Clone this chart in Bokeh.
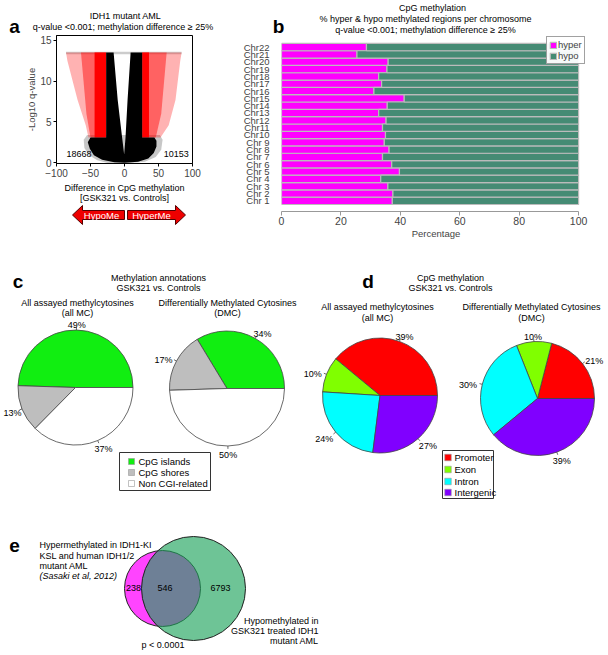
import numpy as np
from bokeh.plotting import figure
from bokeh.layouts import column, row
from bokeh.models import Range1d, FixedTicker, Legend, LegendItem, Plot
from bokeh.embed import file_html
from bokeh.resources import INLINE
from bokeh.core.properties import value

FONT = "Liberation Sans"
EXTRA = {"frame_align": False} if "frame_align" in Plot.properties() else {}

# ---------------- data ----------------
# (a) volcano plot: envelopes of the point clouds (difference %, -log10 q)
black_x = [-16, -27, -27, -50, -54, -51, -45, -33, -15, 0, 20, 35, 43, 47, 47, 44, 26, 26, 9, 4.5, 1.5, -0.5, -3.5, -10]
black_y = [13.5, 13.5, 3.1, 3.1, 2.5, 1.7, 0.9, 0.35, 0.05, 0.0, 0.1, 0.5, 1.2, 2.0, 2.7, 3.1, 3.1, 13.5, 13.5, 7.7, 3.1, 1.0, 3.1, 7.7]
halo_x = [-55, -60, -59, -52, -40, -25, 0, 30, 46, 54, 56, 52]
halo_y = [3.4, 2.8, 1.8, 0.9, 0.3, -0.05, -0.1, 0.1, 0.7, 1.6, 2.8, 3.4]
red_sparse_left_x = [-27, -53, -57, -69, -84, -86, -27]
red_sparse_left_y = [3.1, 3.1, 4.6, 7.7, 12.5, 13.5, 13.5]
red_sparse_right_x = [26, 53, 65, 75, 82, 84, 26]
red_sparse_right_y = [3.1, 3.1, 4.6, 7.7, 12.5, 13.5, 13.5]
red_mid_left_x = [-27, -50, -56, -64, -27]
red_mid_left_y = [3.1, 3.1, 6.0, 13.5, 13.5]
red_mid_right_x = [26, 46, 54, 62, 26]
red_mid_right_y = [3.1, 3.1, 6.0, 13.5, 13.5]
red_dense_left_x = [-44, -27, -27, -44]
red_dense_right_x = [26, 36, 36, 26]
red_dense_y = [3.1, 3.1, 13.5, 13.5]
cap_x = [-86, 84]
cap_y = [13.3, 13.6]
hypo_count = 18668
hyper_count = 10153
volcano_xticks = [-100, -50, 0, 50, 100]
volcano_yticks = [0, 5, 10, 15]

# (b) % hyper-methylated regions per chromosome (rest is hypo)
chrom_labels = ["Chr 1", "Chr 2", "Chr 3", "Chr 4", "Chr 5", "Chr 6", "Chr 7", "Chr 8", "Chr 9",
                "Chr10", "Chr11", "Chr12", "Chr13", "Chr14", "Chr15", "Chr16", "Chr17", "Chr18",
                "Chr19", "Chr20", "Chr21", "Chr22"]
hyper_pct = [37.3, 37.5, 35.8, 33.4, 39.7, 37.1, 34.0, 36.2, 34.6, 35.0, 34.0, 35.2, 32.7, 35.6,
             41.3, 31.1, 33.7, 32.7, 35.5, 35.9, 25.4, 28.6]
pct_ticks = [0, 20, 40, 60, 80, 100]

# (c) methylation annotations
annot_labels = ["CpG islands", "CpG shores", "Non CGI-related"]
annot_all = [49, 13, 37]
annot_dmc = [34, 17, 50]
annot_colors = ["#11EE11", "#BEBEBE", "#FFFFFF"]

# (d) genomic features
feat_labels = ["Promoter", "Exon", "Intron", "Intergenic"]
feat_all = [39, 10, 24, 27]
feat_dmc = [21, 10, 30, 39]
feat_colors = ["#FF0000", "#80FF00", "#00FFFF", "#8000FF"]

# (e) Venn counts
venn_only_sasaki = 238
venn_overlap = 546
venn_only_gsk = 6793


# ---------------- helpers ----------------
def canvas(X0, Y0, X1, Y1):
    p = figure(width=X1 - X0, height=Y1 - Y0, x_range=Range1d(X0, X1), y_range=Range1d(-Y1, -Y0),
               x_axis_type=None, y_axis_type=None, toolbar_location=None, output_backend="svg",
               min_border_left=0, min_border_right=0, min_border_top=0, min_border_bottom=0, **EXTRA)
    p.outline_line_color = None
    return p


def txt(p, X, Y, s, size=9, align="center", baseline="middle", style="normal", color="black"):
    p.text(x=[X], y=[-Y], text=[s], text_font=value(FONT), text_font_size=f"{size}px",
           text_align=align, text_baseline=baseline, text_font_style=style, text_color=color)


def letter(p, X, Y, s):
    txt(p, X, Y, s, size=19, baseline="middle", style="bold")


def pie(p, cx, cy, r, vals, colors, xmin, xmax):
    fr = np.array(vals, dtype=float) / float(sum(vals))
    ends = np.cumsum(fr) * 2 * np.pi
    starts = np.concatenate([[0.0], ends[:-1]])
    p.wedge(x=cx, y=-cy, radius=r, start_angle=list(starts), end_angle=list(ends),
            fill_color=colors, line_color="#444444", line_width=0.8)
    for s, e, v in zip(starts, ends, vals):
        m = (s + e) / 2
        c, sn = np.cos(m), np.sin(m)
        p.line([cx + r * c, cx + 1.05 * r * c], [-cy + r * sn, -cy + 1.05 * r * sn],
               line_color="#444444", line_width=0.8)
        lx = min(max(cx + 1.12 * r * c + 8 * c, xmin), xmax)
        txt(p, lx, cy - 1.12 * r * sn + 2, f"{v}%")


def box_legend(p, x0, y0, x1, y1, sq_x, sq, rows_y, labels, colors, text_x):
    p.quad(left=[x0], right=[x1], top=[-y0], bottom=[-y1], fill_color=None,
           line_color="#333333", line_width=1)
    p.rect(x=[sq_x] * len(rows_y), y=[-yy for yy in rows_y], width=sq, height=sq,
           fill_color=colors, line_color="#999999", line_width=0.6)
    for yy, lab in zip(rows_y, labels):
        txt(p, text_x, yy, lab, size=9.5, align="left")


# ---------------- panel a ----------------
a_top = canvas(0, 0, 240, 35)
letter(a_top, 14, 25.5, "a")
txt(a_top, 125, 15.5, "IDH1 mutant AML")
txt(a_top, 122.5, 26.5, "q-value <0.001; methylation difference \u2265 25%")

pa = figure(width=240, height=148, x_range=Range1d(-100, 100), y_range=Range1d(-0.1, 15.6),
            toolbar_location=None, output_backend="svg",
            min_border_left=56, min_border_right=48, min_border_top=0, min_border_bottom=20, **EXTRA)
pa.grid.grid_line_color = None
pa.outline_line_color = "black"
pa.outline_line_width = 1
pa.xaxis.ticker = FixedTicker(ticks=volcano_xticks)
pa.yaxis.ticker = FixedTicker(ticks=volcano_yticks)
for ax in [pa.xaxis[0], pa.yaxis[0]]:
    ax.major_tick_out = 3
    ax.major_tick_in = 0
    ax.minor_tick_line_color = None
    ax.major_label_text_font = FONT
    ax.major_label_text_font_size = "10px"
    ax.major_label_standoff = 2
    ax.axis_line_color = "black"
pa.yaxis.axis_label = "-Log10 q-value"
pa.yaxis.axis_label_text_font = FONT
pa.yaxis.axis_label_text_font_size = "9.5px"
pa.yaxis.axis_label_text_font_style = "normal"
pa.yaxis.axis_label_standoff = 0

pa.patch(halo_x, halo_y, fill_color="black", fill_alpha=0.22, line_color=None)
pa.quad(left=[cap_x[0]], right=[cap_x[1]], bottom=[cap_y[0]], top=[cap_y[1]],
        fill_color="black", fill_alpha=0.2, line_color=None)
pa.patch(red_sparse_left_x, red_sparse_left_y, fill_color="red", fill_alpha=0.3, line_color=None)
pa.patch(red_sparse_right_x, red_sparse_right_y, fill_color="red", fill_alpha=0.3, line_color=None)
pa.patch(red_mid_left_x, red_mid_left_y, fill_color="red", fill_alpha=0.45, line_color=None)
pa.patch(red_mid_right_x, red_mid_right_y, fill_color="red", fill_alpha=0.45, line_color=None)
pa.patch(red_dense_left_x, red_dense_y, fill_color="red", line_color=None)
pa.patch(red_dense_right_x, red_dense_y, fill_color="red", line_color=None)
pa.patch(black_x, black_y, fill_color="black", line_color=None)
pa.text(x=[-67, 76], y=[1.12, 1.12], text=[str(hypo_count), str(hyper_count)],
        text_font=value(FONT), text_font_size="9px", text_align="center", text_baseline="middle")

a_bot = canvas(0, 183, 240, 262)
txt(a_bot, 124, 187.5, "Difference in CpG methylation")
txt(a_bot, 124, 197.5, "[GSK321 vs. Controls]")
left_arrow_X = [72, 82, 82, 124, 124, 82, 82]
left_arrow_Y = [214.5, 205, 210, 210, 219, 219, 224]
right_arrow_X = [127, 175, 175, 185, 175, 175, 127]
right_arrow_Y = [210, 210, 205, 214.5, 224, 219, 219]
a_bot.patch(left_arrow_X, [-v for v in left_arrow_Y], fill_color="#EE0000", line_color="#550000", line_width=1)
a_bot.patch(right_arrow_X, [-v for v in right_arrow_Y], fill_color="#EE0000", line_color="#550000", line_width=1)
txt(a_bot, 101, 214.5, "HypoMe", size=9.5, color="white")
txt(a_bot, 151, 214.5, "HyperMe", size=9.5, color="white")

# ---------------- panel b ----------------
b_top = canvas(240, 0, 606, 36)
letter(b_top, 278, 25.5, "b")
txt(b_top, 432, 7, "CpG methylation")
txt(b_top, 425, 18, "% hyper & hypo methylated regions per chromosome")
txt(b_top, 425, 29, "q-value <0.001; methylation difference \u2265 25%")

y_pos = list(range(1, len(chrom_labels) + 1))
hypo_pct = [100 - h for h in hyper_pct]
pb = figure(width=366, height=226, x_range=Range1d(0, 104.01), y_range=Range1d(-0.456, 23.45),
            toolbar_location=None, output_backend="svg",
            min_border_left=39, min_border_right=16, min_border_top=0, min_border_bottom=51, **EXTRA)
pb.grid.grid_line_color = None
pb.outline_line_color = None
r_hyper = pb.hbar(y=y_pos, left=0, right=hyper_pct, height=1, fill_color="#FF00FF",
                  line_color="#BBBBBB", line_width=1.2)
r_hypo = pb.hbar(y=y_pos, left=hyper_pct, right=[h + g for h, g in zip(hyper_pct, hypo_pct)], height=1,
                 fill_color="#458B74", line_color="#BBBBBB", line_width=1.2)
pb.yaxis.ticker = FixedTicker(ticks=y_pos)
pb.yaxis.major_label_overrides = {i: lab for i, lab in zip(y_pos, chrom_labels)}
pb.yaxis.axis_line_color = None
pb.yaxis.major_tick_line_color = None
pb.yaxis.minor_tick_line_color = None
pb.yaxis.major_label_standoff = 6
pb.yaxis.major_label_text_font = FONT
pb.yaxis.major_label_text_font_size = "9.5px"
pb.xaxis.ticker = FixedTicker(ticks=pct_ticks)
pb.xaxis.bounds = (0, 100)
pb.xaxis.axis_line_color = "#999999"
pb.xaxis.major_tick_line_color = "#999999"
pb.xaxis.minor_tick_line_color = None
pb.xaxis.major_tick_out = 4
pb.xaxis.major_tick_in = 0
pb.xaxis.major_label_standoff = 1
pb.xaxis.major_label_text_font = FONT
pb.xaxis.major_label_text_font_size = "10.5px"
pb.xaxis.axis_label = "Percentage"
pb.xaxis.axis_label_text_font = FONT
pb.xaxis.axis_label_text_font_size = "9.5px"
pb.xaxis.axis_label_text_font_style = "normal"
pb.xaxis.axis_label_standoff = 0
leg = Legend(items=[LegendItem(label="hyper", renderers=[r_hyper]),
                    LegendItem(label="hypo", renderers=[r_hypo])],
             location=(265, 147), label_text_font=FONT, label_text_font_size="9.5px",
             glyph_width=8, glyph_height=8, label_height=8, label_standoff=1, spacing=0,
             padding=2, margin=0, border_line_color="#444444", border_line_width=1)
pb.add_layout(leg)

# ---------------- panel c ----------------
pc = canvas(0, 262, 300, 520)
letter(pc, 17.5, 281, "c")
txt(pc, 158, 277, "Methylation annotations")
txt(pc, 158, 287, "GSK321 vs. Controls")
txt(pc, 77, 302, "All assayed methylcytosines")
txt(pc, 77, 312, "(all MC)")
txt(pc, 227, 302, "Differentially Methylated Cytosines")
txt(pc, 227, 312, "(DMC)")
pie(pc, 75, 387, 57.5, annot_all, annot_colors, 12, 290)
pie(pc, 226.5, 388, 57.5, annot_dmc, annot_colors, 12, 290)
box_legend(pc, 119, 452, 210, 490, 131, 6, [461, 472, 483], annot_labels, annot_colors, 138)

# ---------------- panel d ----------------
pd_ = canvas(300, 262, 606, 520)
letter(pd_, 367.5, 280.5, "d")
txt(pd_, 450, 277, "CpG methylation")
txt(pd_, 450, 287, "GSK321 vs. Controls")
txt(pd_, 377, 306, "All assayed methylcytosines")
txt(pd_, 377, 317, "(all MC)")
txt(pd_, 531, 306, "Differentially Methylated Cytosines")
txt(pd_, 531, 317, "(DMC)")
pie(pd_, 379.5, 395, 57.5, feat_all, feat_colors, 312, 596)
pie(pd_, 537, 398, 57, feat_dmc, feat_colors, 312, 596)
box_legend(pd_, 442, 450, 493, 498, 447.5, 6.5, [457, 469, 481, 492], feat_labels, feat_colors, 454)

# ---------------- panel e ----------------
pe = canvas(0, 520, 606, 651)
dy = -2
letter(pe, 14, 547 + dy, "e")
txt(pe, 39, 546 + dy, "Hypermethylated in IDH1-KI", align="left")
txt(pe, 39, 557 + dy, "KSL and human IDH1/2", align="left")
txt(pe, 39, 567 + dy, "mutant AML", align="left")
txt(pe, 39, 577 + dy, "(Sasaki et al, 2012)", align="left", style="italic")
pe.circle(x=[162], y=[-(590 + dy)], radius=38, fill_color="#FF44FF", line_color="#222222", line_width=1)
pe.circle(x=[193], y=[-(590 + dy)], radius=52, fill_color="#1CA25B", fill_alpha=0.64,
          line_color="#222222", line_width=1)
txt(pe, 133, 589 + dy, str(venn_only_sasaki))
txt(pe, 164.5, 589 + dy, str(venn_overlap))
txt(pe, 220, 589 + dy, str(venn_only_gsk))
txt(pe, 318, 622 + dy, "Hypomethylated in", align="right")
txt(pe, 318, 632 + dy, "GSK321 treated IDH1", align="right")
txt(pe, 318, 642 + dy, "mutant AML", align="right")
txt(pe, 162.5, 646 + dy, "p < 0.0001")

layout = column(row(column(a_top, pa, a_bot), column(b_top, pb)), row(pc, pd_), pe)
open("out.html", "w").write(file_html(layout, INLINE))
